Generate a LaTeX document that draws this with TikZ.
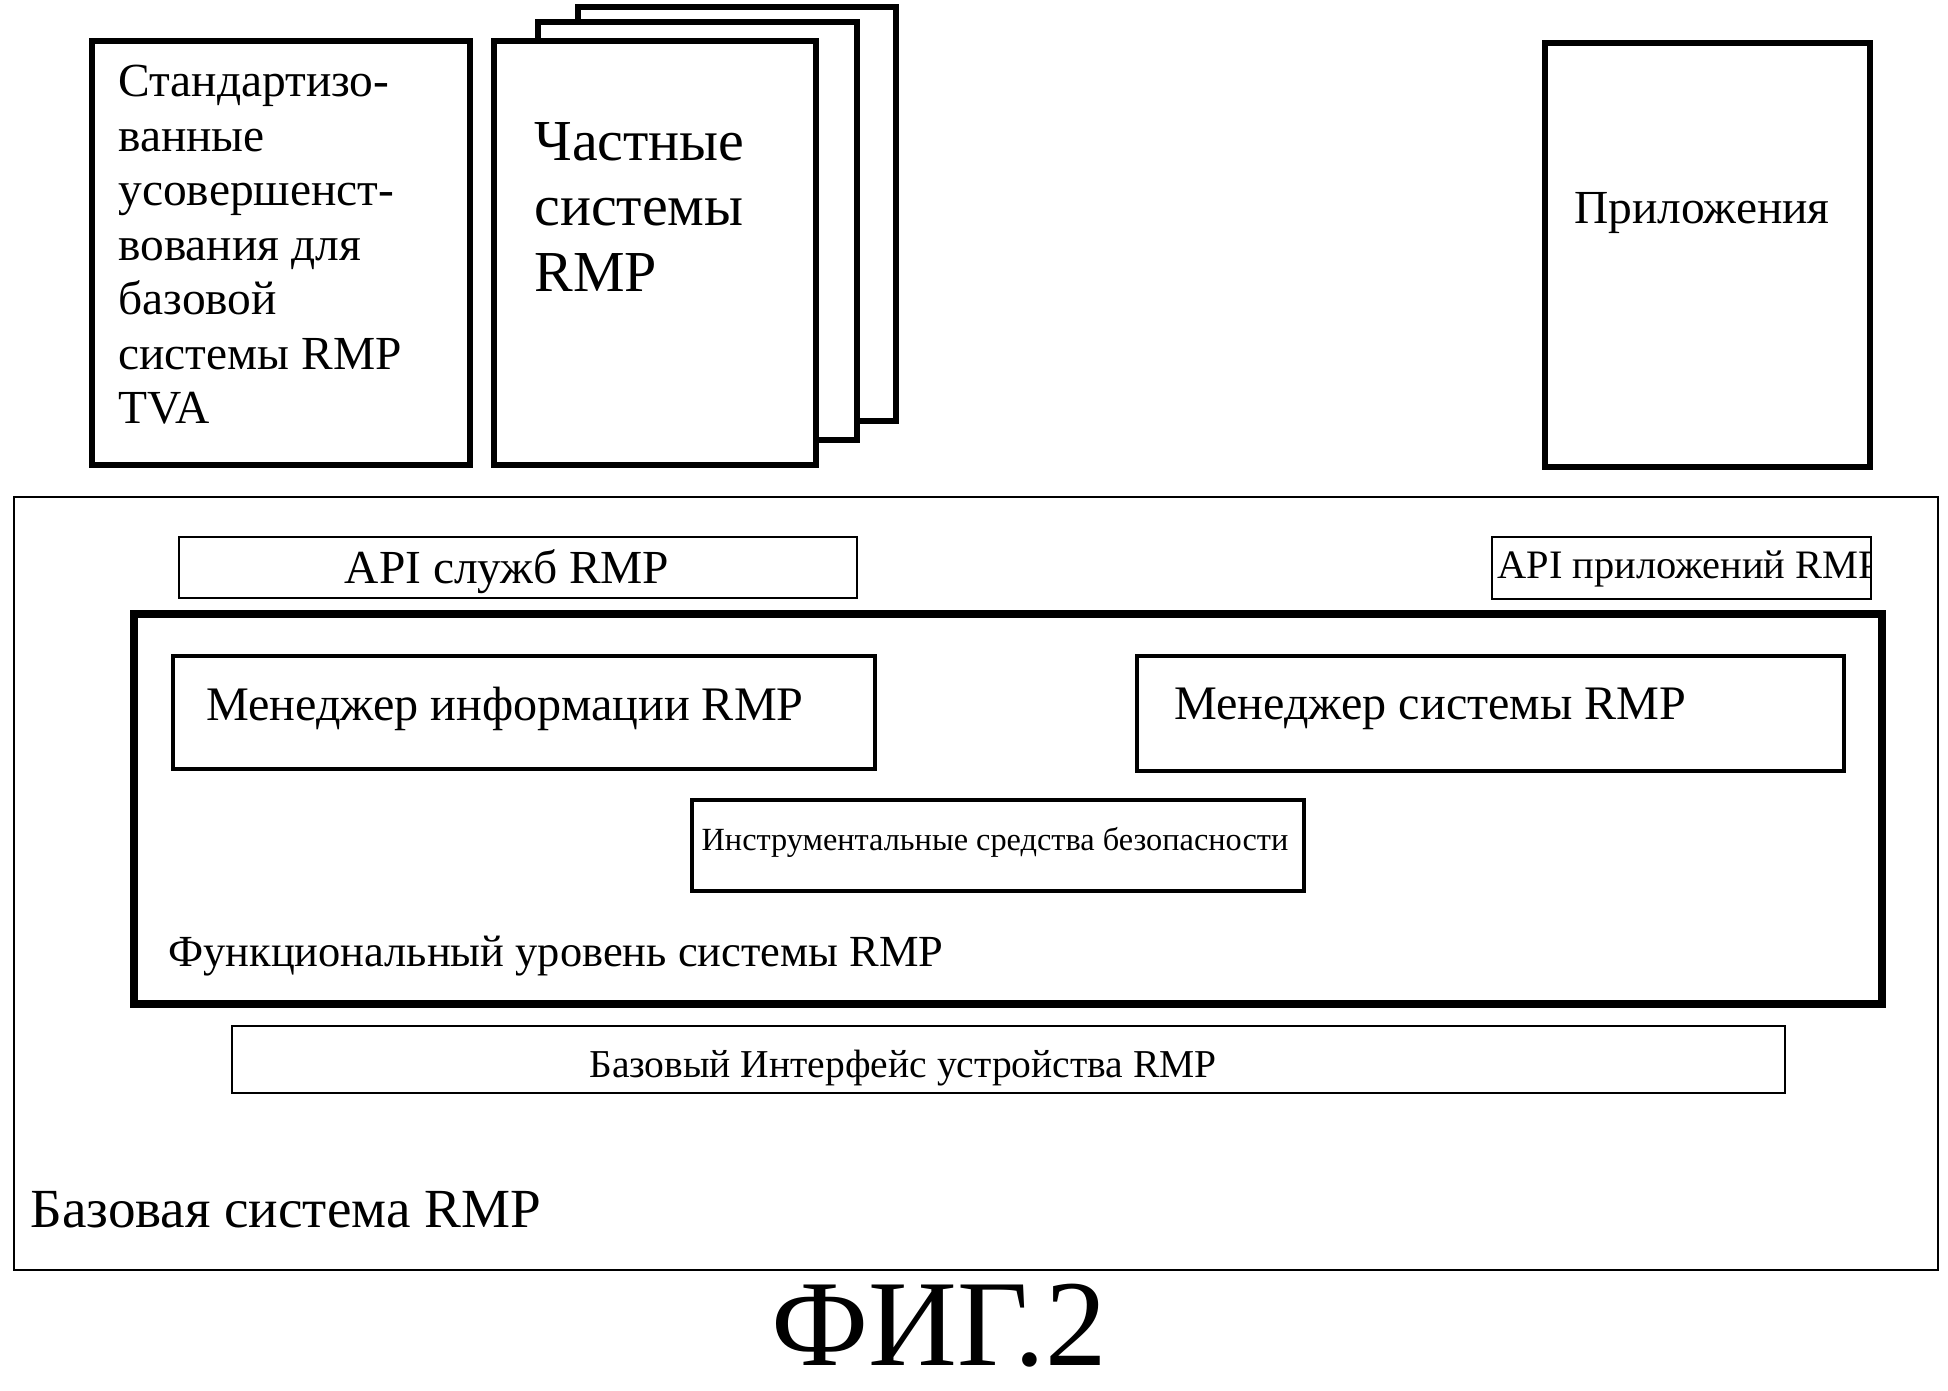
\documentclass[tikz,border=0pt]{standalone}
\usepackage{fontspec}
\setmainfont{Liberation Serif}
\begin{document}
\begin{tikzpicture}[x=0.02cm, y=-0.02cm,
  heavy/.style={draw, line width=3.8pt, fill=white},
  thin/.style={draw, line width=1.5pt},
  txt/.style={inner sep=0pt, font=\fontsize{27}{31}\selectfont}]
\useasboundingbox[fill=white] (0,0) rectangle (1948,1390);
% upper row
\draw[heavy] (92,41) rectangle (470,465);
\draw[heavy] (578,7) rectangle (896,421);
\draw[heavy] (538,22) rectangle (857,440);
\draw[heavy] (494,41) rectangle (816,465);
\draw[heavy] (1545,43) rectangle (1870,467);
\node (S) at (118,245)[anchor=west, align=left, txt]{Стандартизо-\\ванные\\усовершенст-\\вования для\\базовой\\системы RMP\\TVA};
\node (P) at (534,207)[anchor=west, align=left, inner sep=0pt, font=\fontsize{33}{37.5}\selectfont]{Частные\\системы\\RMP};
\node (A) at (1702,213)[txt]{Приложения};
% base system
\draw[thin] (14,497) rectangle (1938,1270);
\draw[thin] (179,537) rectangle (857,598);
\node (B) at (507,572)[txt]{API служб RMP};
\begin{scope}
\clip (1492,537) rectangle (1871,599);
\node (C) at (1497,569)[anchor=west, inner sep=0pt, font=\fontsize{23}{27}\selectfont]{API приложений RMP};
\end{scope}
\draw[thin] (1492,537) rectangle (1871,599);
% functional level
\draw[line width=4.5pt] (134,614) rectangle (1882,1004);
\draw[line width=2pt] (173,656) rectangle (875,769);
\draw[line width=2pt] (1137,656) rectangle (1844,771);
\node (D) at (206,709)[anchor=west, font=\fontsize{27.4}{31}\selectfont, inner sep=0pt]{Менеджер информации RMP};
\node (E) at (1174,709)[anchor=west, font=\fontsize{27.4}{31}\selectfont, inner sep=0pt]{Менеджер системы RMP};
\draw[line width=1.8pt] (692,800) rectangle (1304,891);
\node (F) at (995,842)[inner sep=0pt, font=\fontsize{18.4}{21}\selectfont]{Инструментальные средства безопасности};
\node (G) at (168,956)[anchor=west, inner sep=0pt, font=\fontsize{25.3}{30}\selectfont]{Функциональный уровень системы RMP};
\draw[thin] (232,1026) rectangle (1785,1093);
\node (H) at (903,1068)[inner sep=0pt, font=\fontsize{22.5}{26}\selectfont]{Базовый Интерфейс устройства RMP};
\node (K) at (30,1210)[anchor=west, inner sep=0pt, font=\fontsize{31.4}{36}\selectfont]{Базовая система RMP};
\node (L) at (939,1326)[inner sep=0pt, font=\fontsize{70}{80}\selectfont]{ФИГ.2};
\end{tikzpicture}
\end{document}
